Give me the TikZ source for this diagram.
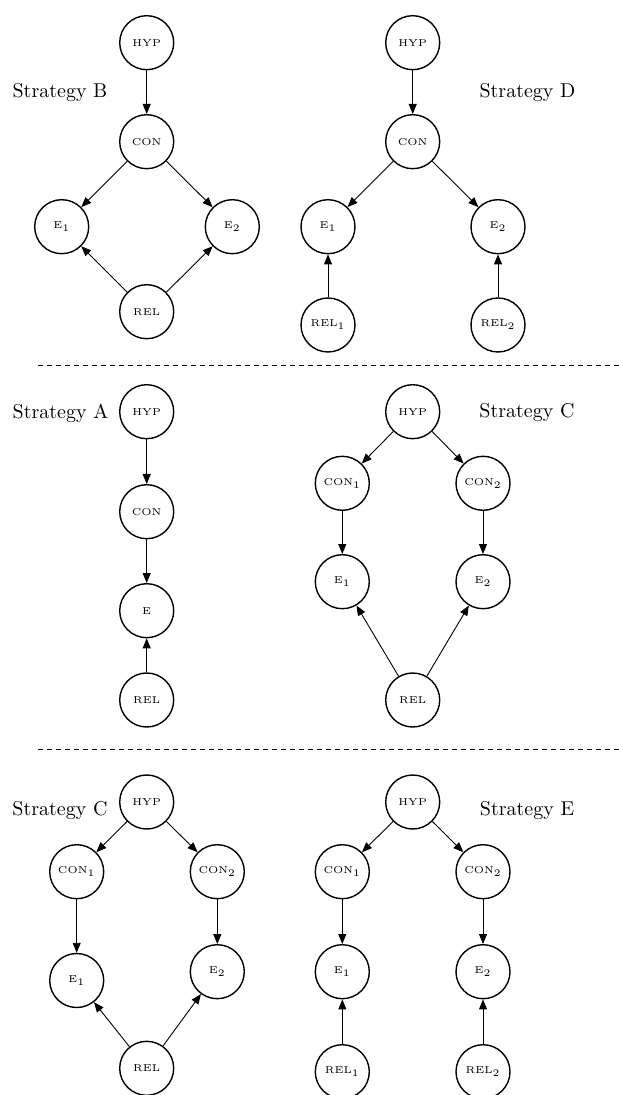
\documentclass[tikz,border=0pt]{standalone}
\usetikzlibrary{arrows.meta}
\begin{document}
\begin{tikzpicture}[x=0.5pt,y=-0.5pt,
  st/.style={circle,draw,line width=0.7pt,minimum size=27pt,inner sep=0pt,font=\tiny},
  arr/.style={-{Triangle[length=5pt,width=4pt]},line width=0.45pt},
  lbl/.style={font=\normalsize,inner sep=0pt},
  sep/.style={dash pattern=on 2.5pt off 2pt,line width=0.4pt}]
\useasboundingbox (0,0) rectangle (619,1095);

% ---------- Strategy B ----------
\node[lbl] (lB) at (60,93) {Strategy B};
\node[st] (bH) at (146.7,42.7) {HYP};
\node[st] (bC) at (146.7,141.7) {CON};
\node[st] (bE1) at (61.7,226.7) {E$_1$};
\node[st] (bE2) at (232.3,226.7) {E$_2$};
\node[st] (bR) at (146.7,311.7) {REL};
\draw[arr] (bH) -- (bC);
\draw[arr] (bC) -- (bE1);
\draw[arr] (bC) -- (bE2);
\draw[arr] (bR) -- (bE1);
\draw[arr] (bR) -- (bE2);

% ---------- Strategy D ----------
\node[lbl] (lD) at (527.5,93) {Strategy D};
\node[st] (dH) at (412.7,42.7) {HYP};
\node[st] (dC) at (412.7,141.7) {CON};
\node[st] (dE1) at (328,226.7) {E$_1$};
\node[st] (dE2) at (498,226.7) {E$_2$};
\node[st] (dR1) at (328,325) {REL$_1$};
\node[st] (dR2) at (498,325) {REL$_2$};
\draw[arr] (dH) -- (dC);
\draw[arr] (dC) -- (dE1);
\draw[arr] (dC) -- (dE2);
\draw[arr] (dR1) -- (dE1);
\draw[arr] (dR2) -- (dE2);

% separator 1
\coordinate (s1a) at (38,365);
\coordinate (s1b) at (625,365);
\draw[sep] (s1a) -- (s1b);

% ---------- Strategy A ----------
\node[lbl] (lA) at (60.5,413) {Strategy A};
\node[st] (aH) at (146.7,411.7) {HYP};
\node[st] (aC) at (146.7,511.7) {CON};
\node[st] (aE) at (146.7,610.7) {E};
\node[st] (aR) at (146.7,700) {REL};
\draw[arr] (aH) -- (aC);
\draw[arr] (aC) -- (aE);
\draw[arr] (aR) -- (aE);

% ---------- Strategy C (middle) ----------
\node[lbl] (lC) at (527,413) {Strategy C};
\node[st] (cH) at (412.7,411.7) {HYP};
\node[st] (cC1) at (342.3,483.3) {CON$_1$};
\node[st] (cC2) at (483,483.3) {CON$_2$};
\node[st] (cE1) at (342.3,581.7) {E$_1$};
\node[st] (cE2) at (483,581.7) {E$_2$};
\node[st] (cR) at (412.7,700) {REL};
\draw[arr] (cH) -- (cC1);
\draw[arr] (cH) -- (cC2);
\draw[arr] (cC1) -- (cE1);
\draw[arr] (cC2) -- (cE2);
\draw[arr] (cR) -- (cE1);
\draw[arr] (cR) -- (cE2);

% separator 2
\coordinate (s2a) at (38,749);
\coordinate (s2b) at (625,749);
\draw[sep] (s2a) -- (s2b);

% ---------- Strategy C (bottom) ----------
\node[lbl] (lC2) at (60,811) {Strategy C};
\node[st] (kH) at (146.7,802) {HYP};
\node[st] (kC1) at (76.7,871.7) {CON$_1$};
\node[st] (kC2) at (217.3,871.7) {CON$_2$};
\node[st] (kE1) at (76.7,980.5) {E$_1$};
\node[st] (kE2) at (217.3,971.7) {E$_2$};
\node[st] (kR) at (146.7,1068.3) {REL};
\draw[arr] (kH) -- (kC1);
\draw[arr] (kH) -- (kC2);
\draw[arr] (kC1) -- (kE1);
\draw[arr] (kC2) -- (kE2);
\draw[arr] (kR) -- (kE1);
\draw[arr] (kR) -- (kE2);

% ---------- Strategy E ----------
\node[lbl] (lE) at (527,811) {Strategy E};
\node[st] (eH) at (412.7,802) {HYP};
\node[st] (eC1) at (342.3,871.7) {CON$_1$};
\node[st] (eC2) at (483,871.7) {CON$_2$};
\node[st] (eE1) at (342.3,971.7) {E$_1$};
\node[st] (eE2) at (483,971.7) {E$_2$};
\node[st] (eR1) at (342.3,1071.7) {REL$_1$};
\node[st] (eR2) at (483,1071.7) {REL$_2$};
\draw[arr] (eH) -- (eC1);
\draw[arr] (eH) -- (eC2);
\draw[arr] (eC1) -- (eE1);
\draw[arr] (eC2) -- (eE2);
\draw[arr] (eR1) -- (eE1);
\draw[arr] (eR2) -- (eE2);
\end{tikzpicture}
\end{document}
